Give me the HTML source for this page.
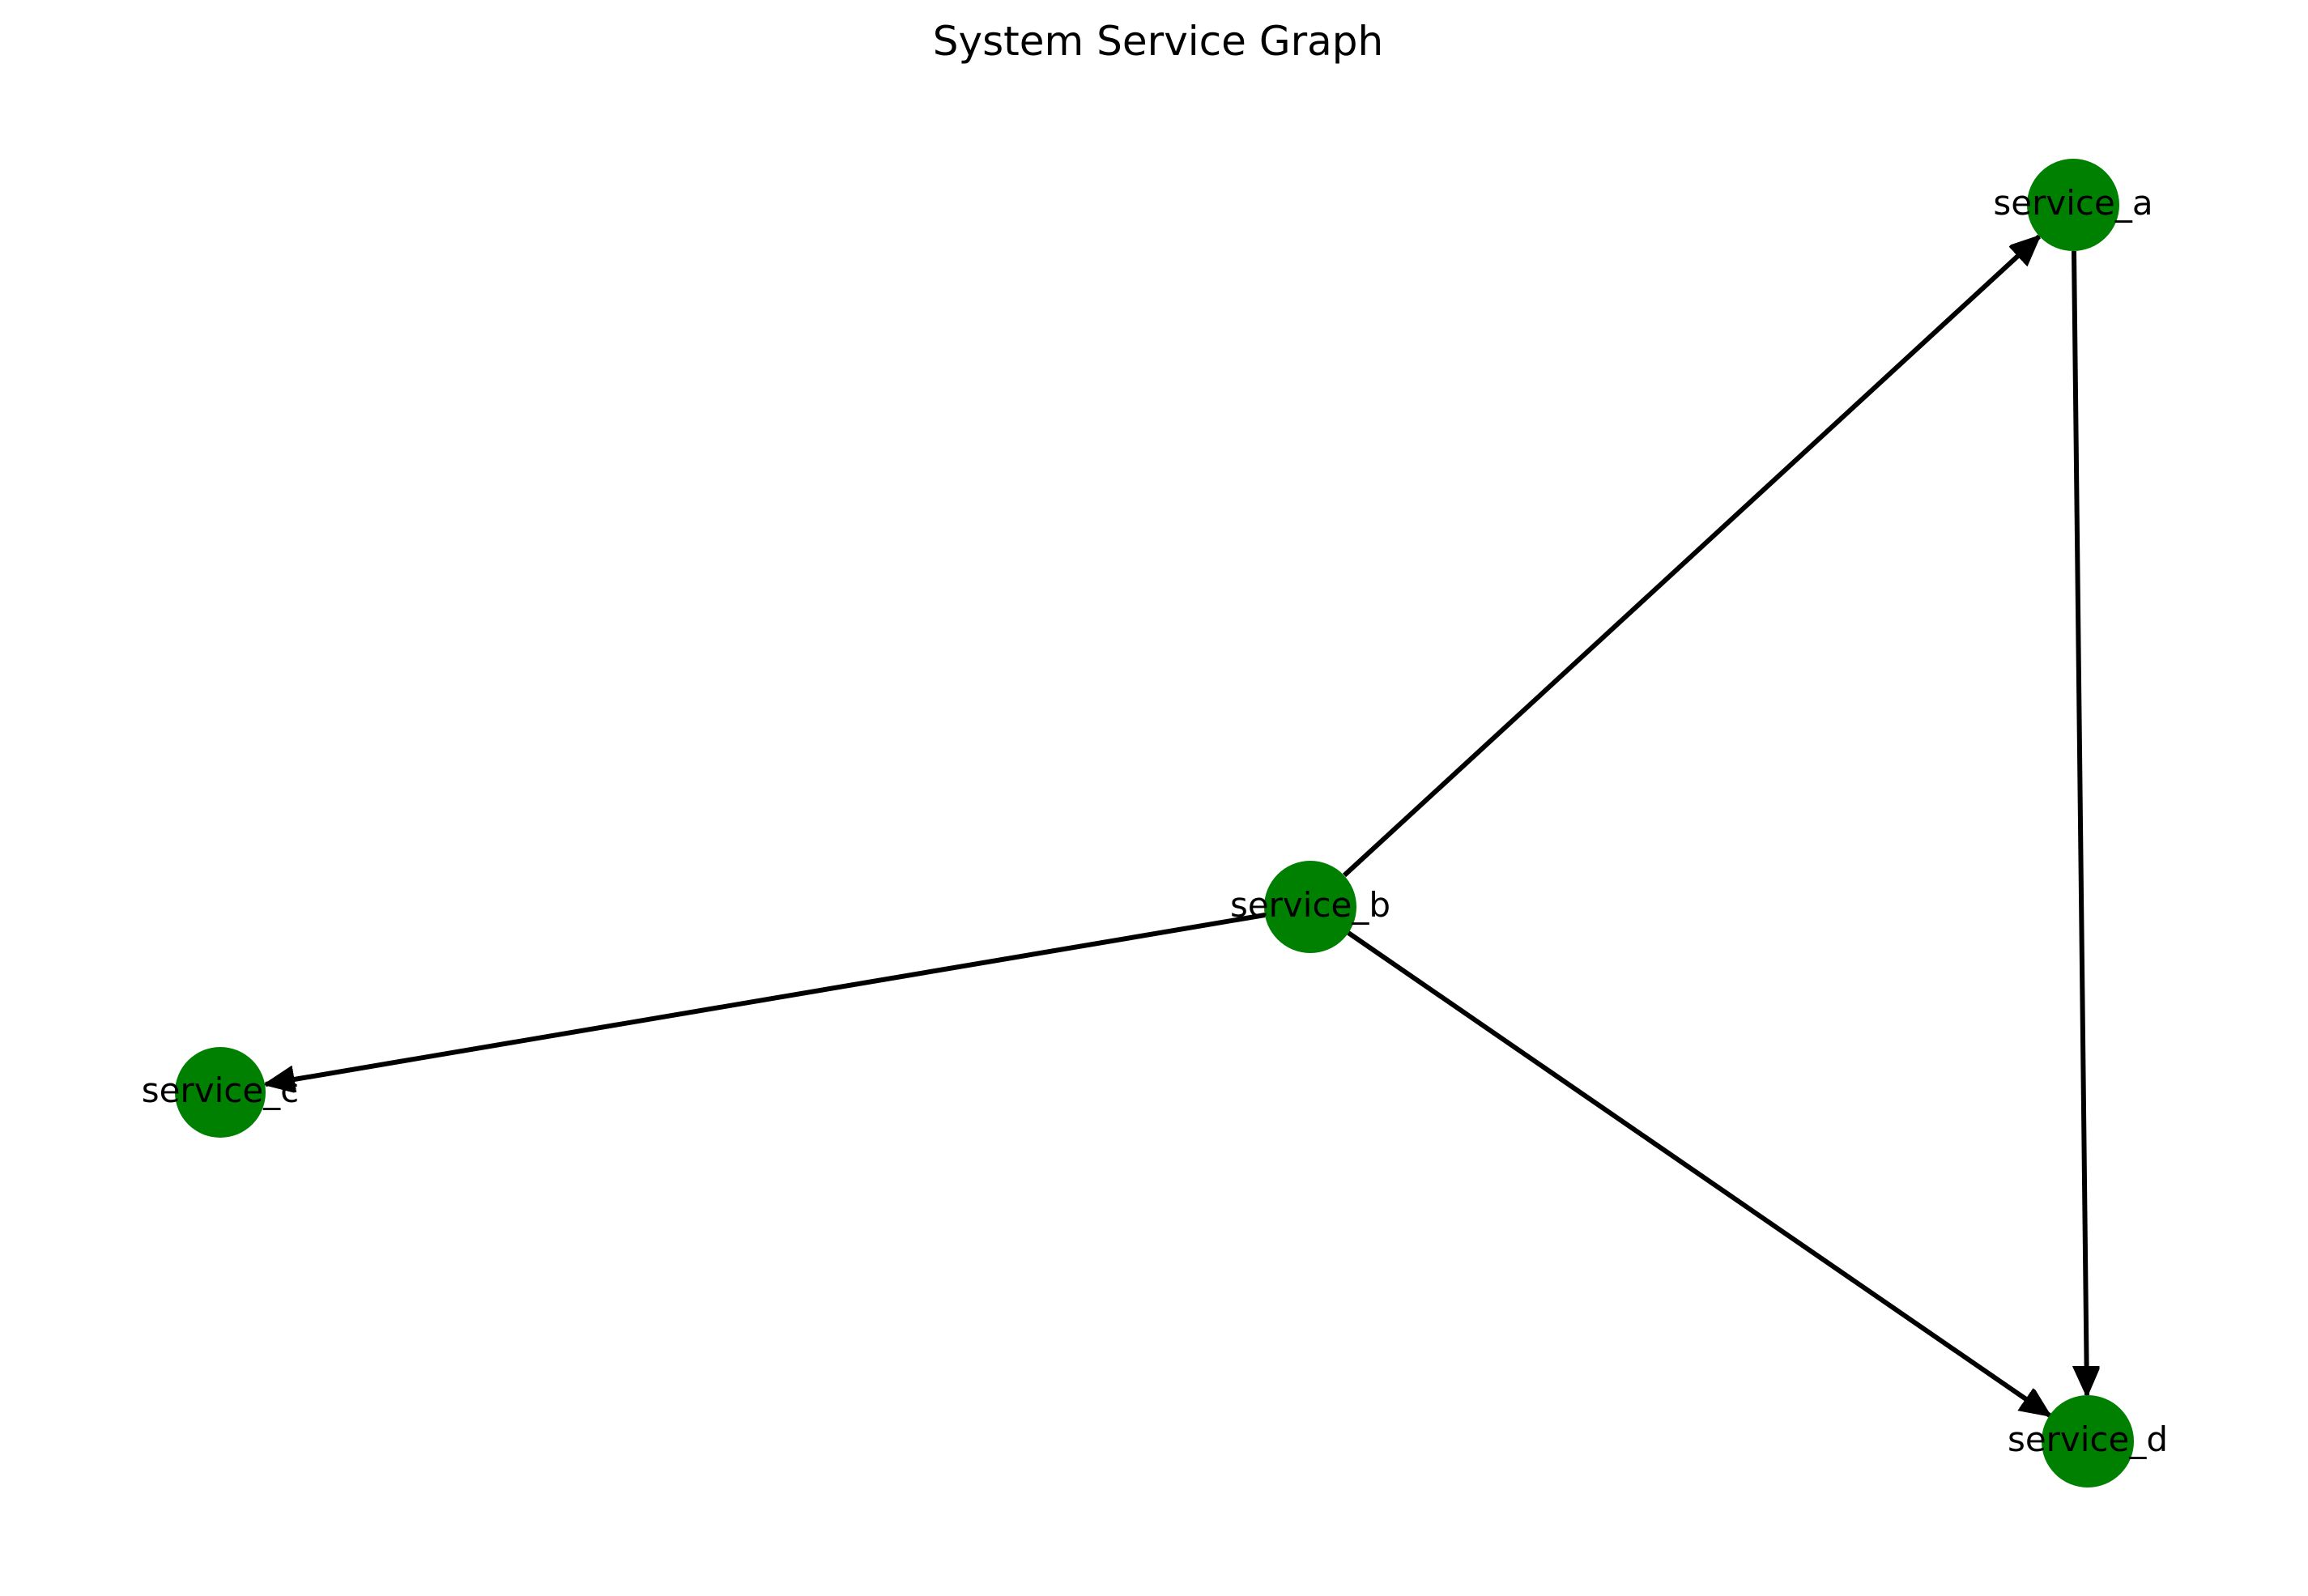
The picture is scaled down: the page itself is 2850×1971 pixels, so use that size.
<!DOCTYPE html>
<html><head><meta charset="utf-8"><style>
html,body{margin:0;padding:0;background:#fff;}
svg{display:block;}
text{font-family:"DejaVu Sans","Liberation Sans",sans-serif;fill:#000;}
</style></head><body>
<svg width="2850" height="1971" viewBox="0 0 2850 1971" xmlns="http://www.w3.org/2000/svg">
<defs>
<marker id="ah" markerUnits="userSpaceOnUse" markerWidth="50" markerHeight="50" refX="36" refY="16" orient="auto">
<path d="M0,0 L36,16 L0,32 Z" fill="#000" stroke="#000" stroke-width="3" stroke-linejoin="round"/>
</marker>
</defs>
<text x="1430" y="68" font-size="50" text-anchor="middle">System Service Graph</text>
<g stroke="#000" stroke-width="6" fill="none">
<line x1="1660" y1="1081" x2="2518" y2="292" marker-end="url(#ah)"/>
<line x1="1562" y1="1130" x2="328" y2="1339" marker-end="url(#ah)"/>
<line x1="1665" y1="1152" x2="2531" y2="1748" marker-end="url(#ah)"/>
<line x1="2561" y1="310" x2="2577" y2="1723" marker-end="url(#ah)"/>
</g>
<g fill="#008000">
<circle cx="2560" cy="253" r="57"/>
<circle cx="1618" cy="1120" r="57"/>
<circle cx="272" cy="1349" r="56"/>
<circle cx="2578" cy="1780" r="57"/>
</g>
<g font-size="42" text-anchor="middle">
<text x="2560" y="265">service_a</text>
<text x="1618" y="1132">service_b</text>
<text x="272" y="1361">service_c</text>
<text x="2578" y="1792">service_d</text>
</g>
</svg>
</body></html>
